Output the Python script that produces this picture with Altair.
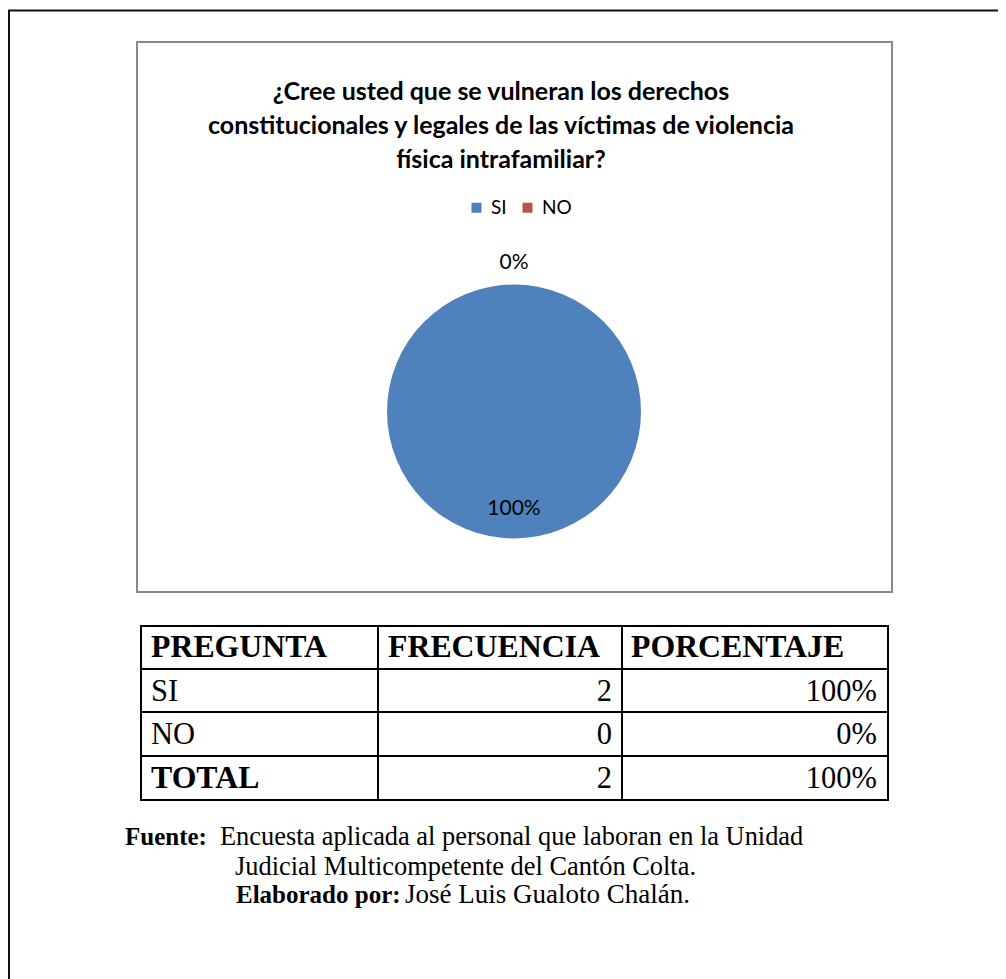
import altair as alt
import pandas as pd

# ---------------- data ----------------
categorias = ["SI", "NO"]
frecuencias = [2, 0]
porcentajes_pie = ["100%", "0%"]

tabla_encabezados = ["PREGUNTA", "FRECUENCIA", "PORCENTAJE"]
tabla_preguntas = ["SI", "NO", "TOTAL"]
tabla_frecuencia = [2, 0, 2]
tabla_porcentaje = ["100%", "0%", "100%"]

titulo = ["¿Cree usted que se vulneran los derechos",
          "constitucionales y legales de las víctimas de violencia",
          "física intrafamiliar?"]
fuente_bold = "Fuente:"
fuente_text = "Encuesta aplicada al personal que laboran en la Unidad"
fuente_text2 = "Judicial Multicompetente del Cantón Colta."
elab_bold = "Elaborado por:"
elab_text = "José Luis Gualoto Chalán."

W, H = 990, 971
O = 8  # page margin offset
SANS = "Lato"
SERIF = "Liberation Serif"

pie_df = pd.DataFrame({"cat": categorias, "value": frecuencias, "pct": porcentajes_pie,
                       "orden": list(range(len(categorias)))})

rows = ["HEAD"] + tabla_preguntas
tab_df = pd.DataFrame({"row": tabla_preguntas, "freq": [str(v) for v in tabla_frecuencia],
                       "pct": tabla_porcentaje})

yrow = alt.Y("row:N", scale=alt.Scale(type="point", domain=rows, range=[657 - O, 788 - O], padding=0), axis=None)

layers = []

def rule(x1, y1, x2, y2, color="black", w=2):
    return alt.Chart(pd.DataFrame({"k": [0]})).mark_rule(color=color, strokeWidth=w).encode(
        x=alt.value(x1 - O), x2=alt.value(x2 - O), y=alt.value(y1 - O), y2=alt.value(y2 - O))

# outer page border (top and left)
layers.append(rule(8, 10.5, 1010, 10.5, color="#111", w=2))
layers.append(rule(9, 10, 9, 990, color="#111", w=2))

# chart box
box = alt.Chart(pd.DataFrame({"k": [0]})).mark_rect(fill="white", stroke="#888888", strokeWidth=2).encode(
    x=alt.value(137 - O), x2=alt.value(892 - O), y=alt.value(42 - O), y2=alt.value(592 - O))
layers.append(box)

# title
for i, line in enumerate(titulo):
    layers.append(alt.Chart(pd.DataFrame({"t": [line]})).mark_text(
        font=SANS, fontSize=25, fontWeight="bold", color="#000000", align="center", baseline="middle"
    ).encode(text="t:N", x=alt.value(501 - O), y=alt.value(92 + 34 * i - O)))

# pie
cx, cy = 514 - O, 411.5 - O
pie = alt.Chart(pie_df).mark_arc(outerRadius=127).encode(
    theta=alt.Theta("value:Q", stack=True),
    order=alt.Order("orden:Q"),
    color=alt.Color("cat:N", scale=alt.Scale(domain=categorias, range=["#4F81BD", "#C0504D"]),
                    legend=alt.Legend(orient="none", legendX=467 - O, legendY=198 - O, direction="horizontal",
                                      title=None, symbolType="square", symbolSize=100, symbolStrokeWidth=0,
                                      labelFont=SANS, labelFontSize=19, labelColor="#000000",
                                      labelOffset=5, columnPadding=11, padding=0)),
    x=alt.value(cx), y=alt.value(cy))
layers.append(pie)

pie_labels = alt.Chart(pie_df).transform_calculate(
    lr="datum.value > 0 ? 97 : 149"
).mark_text(font=SANS, fontSize=21, color="#000000", align="center", baseline="middle").encode(
    theta=alt.Theta("value:Q", stack=True),
    order=alt.Order("orden:Q"),
    radius=alt.Radius("lr:Q", scale=None),
    text="pct:N",
    x=alt.value(cx), y=alt.value(cy))
layers.append(pie_labels)

# table lines
for yy in [626, 669, 712, 756, 800]:
    layers.append(rule(140, yy, 889, yy))
for xx in [141, 378, 622, 888]:
    layers.append(rule(xx, 625, xx, 801))

# table header
head_x = [151, 388, 631]
for h, hx in zip(tabla_encabezados, head_x):
    layers.append(alt.Chart(pd.DataFrame({"row": ["HEAD"], "txt": [h]})).mark_text(
        font=SERIF, fontSize=31.8, fontWeight="bold", align="left", baseline="alphabetic", color="black"
    ).encode(text="txt:N", y=yrow, x=alt.value(hx - O)))

# table body
layers.append(alt.Chart(tab_df).transform_filter("datum.row != 'TOTAL'").mark_text(
    font=SERIF, fontSize=30.5, align="left", baseline="alphabetic", color="black"
).encode(text="row:N", y=yrow, x=alt.value(151 - O)))

layers.append(alt.Chart(tab_df).transform_filter("datum.row == 'TOTAL'").mark_text(
    font=SERIF, fontSize=31.8, fontWeight="bold", align="left", baseline="alphabetic", color="black"
).encode(text="row:N", y=yrow, x=alt.value(151 - O)))

layers.append(alt.Chart(tab_df).mark_text(
    font=SERIF, fontSize=30.5, align="right", baseline="alphabetic", color="black"
).encode(text="freq:N", y=yrow, x=alt.value(612 - O)))

layers.append(alt.Chart(tab_df).mark_text(
    font=SERIF, fontSize=30.5, align="right", baseline="alphabetic", color="black"
).encode(text="pct:N", y=yrow, x=alt.value(877 - O)))

# footer
def txt(s, x, y, bold=False, size=26.4):
    return alt.Chart(pd.DataFrame({"t": [s]})).mark_text(
        font=SERIF, fontSize=size, fontWeight="bold" if bold else "normal", align="left",
        baseline="alphabetic", color="black").encode(text="t:N", x=alt.value(x - O), y=alt.value(y - O))

layers.append(txt(fuente_bold, 125, 845, bold=True, size=25))
layers.append(txt(fuente_text, 220, 845))
layers.append(txt(fuente_text2, 235, 875))
layers.append(txt(elab_bold, 236, 903, bold=True, size=25))
layers.append(txt(elab_text, 405, 903, size=27))

chart = alt.layer(*layers).properties(
    width=W, height=H, autosize=alt.AutoSizeParams(type="none"), padding=0, background="white"
).configure_view(stroke=None)

chart.save("out.html", embed_options={"renderer": "svg", "actions": False})
